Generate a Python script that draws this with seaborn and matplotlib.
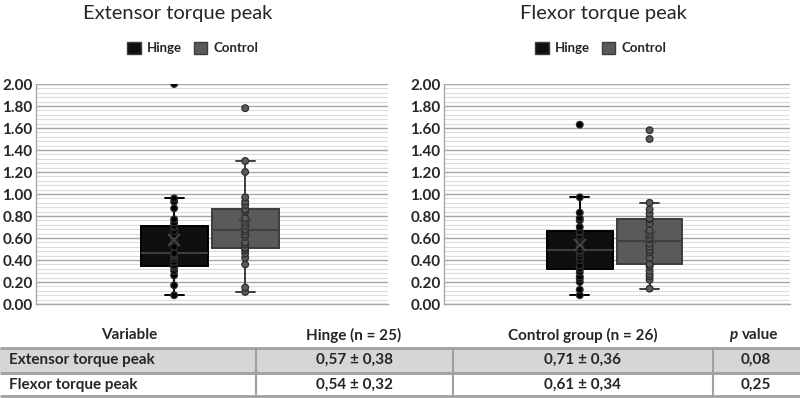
import numpy as np
import pandas as pd
import matplotlib
matplotlib.use("Agg")
import matplotlib.pyplot as plt
from matplotlib.patches import Rectangle, Patch
from matplotlib.ticker import MultipleLocator
import seaborn as sns

# valores (pico de torque)
groups = ["Hinge", "Control"]
ext_hinge = [0.08, 0.17, 0.26, 0.30, 0.33, 0.34, 0.35, 0.38, 0.41, 0.43, 0.44, 0.45, 0.46,
             0.52, 0.58, 0.63, 0.66, 0.70, 0.71, 0.74, 0.77, 0.87, 0.93, 0.96, 2.00]
ext_control = [0.11, 0.15, 0.36, 0.42, 0.46, 0.49, 0.51, 0.51, 0.54, 0.56, 0.61, 0.63, 0.66,
               0.68, 0.71, 0.74, 0.78, 0.84, 0.86, 0.86, 0.90, 0.93, 0.97, 1.20, 1.30, 1.78]
flex_hinge = [0.08, 0.13, 0.20, 0.23, 0.25, 0.29, 0.32, 0.35, 0.40, 0.43, 0.46, 0.48, 0.49,
              0.52, 0.56, 0.60, 0.62, 0.65, 0.66, 0.70, 0.76, 0.78, 0.83, 0.97, 1.63]
flex_control = [0.14, 0.22, 0.25, 0.27, 0.30, 0.34, 0.36, 0.36, 0.42, 0.47, 0.49, 0.52, 0.55,
                0.59, 0.60, 0.63, 0.67, 0.73, 0.77, 0.77, 0.78, 0.82, 0.86, 0.92, 1.50, 1.58]

titles = ["Extensor torque peak", "Flexor torque peak"]
y_ticks = [0.0, 0.2, 0.4, 0.6, 0.8, 1.0, 1.2, 1.4, 1.6, 1.8, 2.0]

# tabela
table_header = ["Variable", "Hinge (n = 25)", "Control group (n = 26)"]
table_rows = ["Extensor torque peak", "Flexor torque peak"]
hinge_vals = ["0,57 \u00b1 0,38", "0,54 \u00b1 0,32"]
control_vals = ["0,71 \u00b1 0,36", "0,61 \u00b1 0,34"]
p_vals = ["0,08", "0,25"]

sns.set_style("white")
plt.rcParams['font.family'] = ['Lato', 'DejaVu Sans']

palette = {"Hinge": "#0f0f0f", "Control": "#5a5a5a"}
W, H = 800, 398
fig = plt.figure(figsize=(8, 3.98), dpi=100)


def make_df(a, b):
    return pd.DataFrame({"group": ["Hinge"] * len(a) + ["Control"] * len(b),
                         "value": a + b})


panels = [make_df(ext_hinge, ext_control), make_df(flex_hinge, flex_control)]
ax_px = [(36, 388), (444, 790)]
title_cx = [178, 603]
legend_cx = [193, 601]
top_px, bot_px = 84, 304

for i, df in enumerate(panels):
    x0, x1 = ax_px[i]
    ax = fig.add_axes([x0 / W, 1 - bot_px / H, (x1 - x0) / W, (bot_px - top_px) / H])
    sns.boxplot(data=df, x="group", y="value", hue="group", order=groups, hue_order=groups,
                palette=palette, width=0.94, showfliers=False, showmeans=True,
                linecolor="#3c3c3c", linewidth=1.4, legend=False, ax=ax, capwidths=0.27,
                meanprops=dict(marker="x", markeredgecolor="#444444", markersize=8,
                               markeredgewidth=1.4, zorder=5),
                medianprops=dict(color="#404040", linewidth=1.4))
    # linhas da caixa Hinge em preto
    for ln in ax.lines:
        xd = np.asarray(ln.get_xdata(), dtype=float)
        if len(xd) and np.all(np.abs(xd) < 0.5) and ln.get_marker() in ("None", None, ""):
            if ln.get_color() == "#3c3c3c":
                ln.set_color("#000000")
    ax.patches[0].set_edgecolor("#000000")
    sns.stripplot(data=df, x="group", y="value", hue="group", order=groups, hue_order=groups,
                  palette={"Hinge": "#000000", "Control": "#5a5a5a"}, jitter=False,
                  size=4.8, linewidth=0.9, edgecolor="#2e2e2e", legend=False, ax=ax, zorder=3)
    # largura do eixo: caixas no centro como no Excel
    ax.set_xlim(-1.944, 3.01)
    ax.set_ylim(0, 2.0)
    ax.yaxis.set_minor_locator(MultipleLocator(0.04))
    ax.set_yticks(y_ticks)
    ax.set_yticklabels([f"{t:.2f}" for t in y_ticks], fontweight="bold", fontsize=11)
    ax.grid(True, which="major", axis="y", color="#a6a6a6", linewidth=1.0)
    ax.grid(True, which="minor", axis="y", color="#dcdcdc", linewidth=0.8)
    ax.set_axisbelow(True)
    ax.set_xticks([])
    ax.set_xlabel("")
    ax.set_ylabel("")
    ax.tick_params(axis="y", which="both", length=0, pad=2.5)
    for s in ["top", "right"]:
        ax.spines[s].set_visible(False)
    for s in ["left", "bottom"]:
        ax.spines[s].set_color("#a6a6a6")
        ax.spines[s].set_linewidth(1.0)

    handles = [Patch(facecolor=palette[g], edgecolor="#3c3c3c", label=g) for g in groups]
    ax.legend(handles=handles, loc="center",
              bbox_to_anchor=((legend_cx[i] - x0) / (x1 - x0), (bot_px - 48) / (bot_px - top_px)),
              ncol=2, frameon=False, handlelength=1.0, handleheight=1.0, handletextpad=0.5,
              columnspacing=0.9, prop={"weight": "bold", "size": 9.5})
    fig.text(title_cx[i] / W, 1 - 14 / H, titles[i], ha="center", va="center", fontsize=14.5)

# tabela em baixo
tax = fig.add_axes([0, 0, 1, 82 / H])
tax.set_xlim(0, W)
tax.set_ylim(398, 316)
tax.axis("off")
tax.add_patch(Rectangle((0, 348), W, 25, facecolor="#d6d6d6", edgecolor="none"))
for yy in [348, 373, 396]:
    tax.plot([0, W], [yy, yy], color="#a0a0a0", linewidth=2.0, solid_capstyle="butt")
for xx in [256, 453, 713]:
    tax.plot([xx, xx], [348, 396], color="#a0a0a0", linewidth=1.5)

col_cx = [129, 354, 583]
fs = 11
for j in range(3):
    tax.text(col_cx[j], 335, table_header[j], ha="center", va="center", fontweight="bold", fontsize=fs)
tax.text(729, 335, "p", ha="left", va="center", fontweight="bold", fontstyle="italic", fontsize=fs)
tax.text(742, 335, "value", ha="left", va="center", fontweight="bold", fontsize=fs)
row_y = [360, 385]
for r in range(2):
    tax.text(9, row_y[r], table_rows[r], ha="left", va="center", fontweight="bold", fontsize=fs)
    tax.text(354, row_y[r], hinge_vals[r], ha="center", va="center", fontweight="bold", fontsize=fs)
    tax.text(582, row_y[r], control_vals[r], ha="center", va="center", fontweight="bold", fontsize=fs)
    tax.text(756, row_y[r], p_vals[r], ha="center", va="center", fontweight="bold", fontsize=fs)

fig.savefig("out.png", dpi=100, facecolor="white")
